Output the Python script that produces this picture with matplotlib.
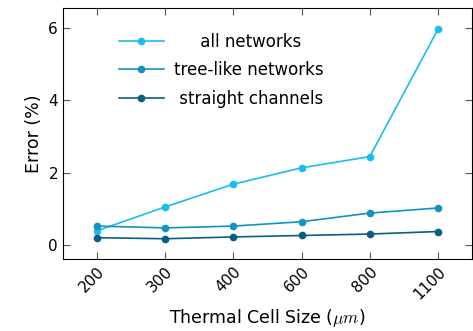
import numpy as np
import matplotlib.pyplot as plt

# data
cell_sizes = ['200', '300', '400', '600', '800', '1100']
all_networks = [0.39, 1.05, 1.68, 2.13, 2.44, 5.96]
tree_like = [0.52, 0.47, 0.52, 0.64, 0.88, 1.02]
straight = [0.20, 0.17, 0.22, 0.26, 0.30, 0.37]

plt.rcParams['font.family'] = ['DejaVu Sans']
plt.rcParams['mathtext.fontset'] = 'cm'

fig = plt.figure(figsize=(4.73, 3.31), dpi=100)
ax = fig.add_axes([0.133, 0.2175, 0.865, 0.7585])

x = np.arange(len(cell_sizes))
ax.plot(x, all_networks, color='#19bdf0', marker='o', markersize=4.5, lw=1.2, label='     all networks')
ax.plot(x, tree_like, color='#1592c4', marker='o', markersize=4.5, lw=1.2, label='tree-like networks')
ax.plot(x, straight, color='#0a5f80', marker='o', markersize=4.5, lw=1.2, label=' straight channels')

ax.set_xlim(-0.5, 5.5)
ax.set_ylim(-0.39, 6.55)
ax.set_xticks(x)
ax.set_xticklabels(cell_sizes, rotation=45, ha='right', rotation_mode='anchor')
ax.set_yticks([0, 2, 4, 6])
ax.tick_params(direction='in', top=True, right=True, length=5, labelsize=11, color='#555555')
ax.set_xlabel(r'Thermal Cell Size ($\mu m$)', fontsize=12.5)
ax.set_ylabel('Error (%)', fontsize=12.5)

leg = ax.legend(loc='upper left', bbox_to_anchor=(0.1, 0.96), frameon=False, fontsize=12,
                handlelength=2.7, labelspacing=0.62, handletextpad=0.6)

fig.savefig('out.png', dpi=100)
